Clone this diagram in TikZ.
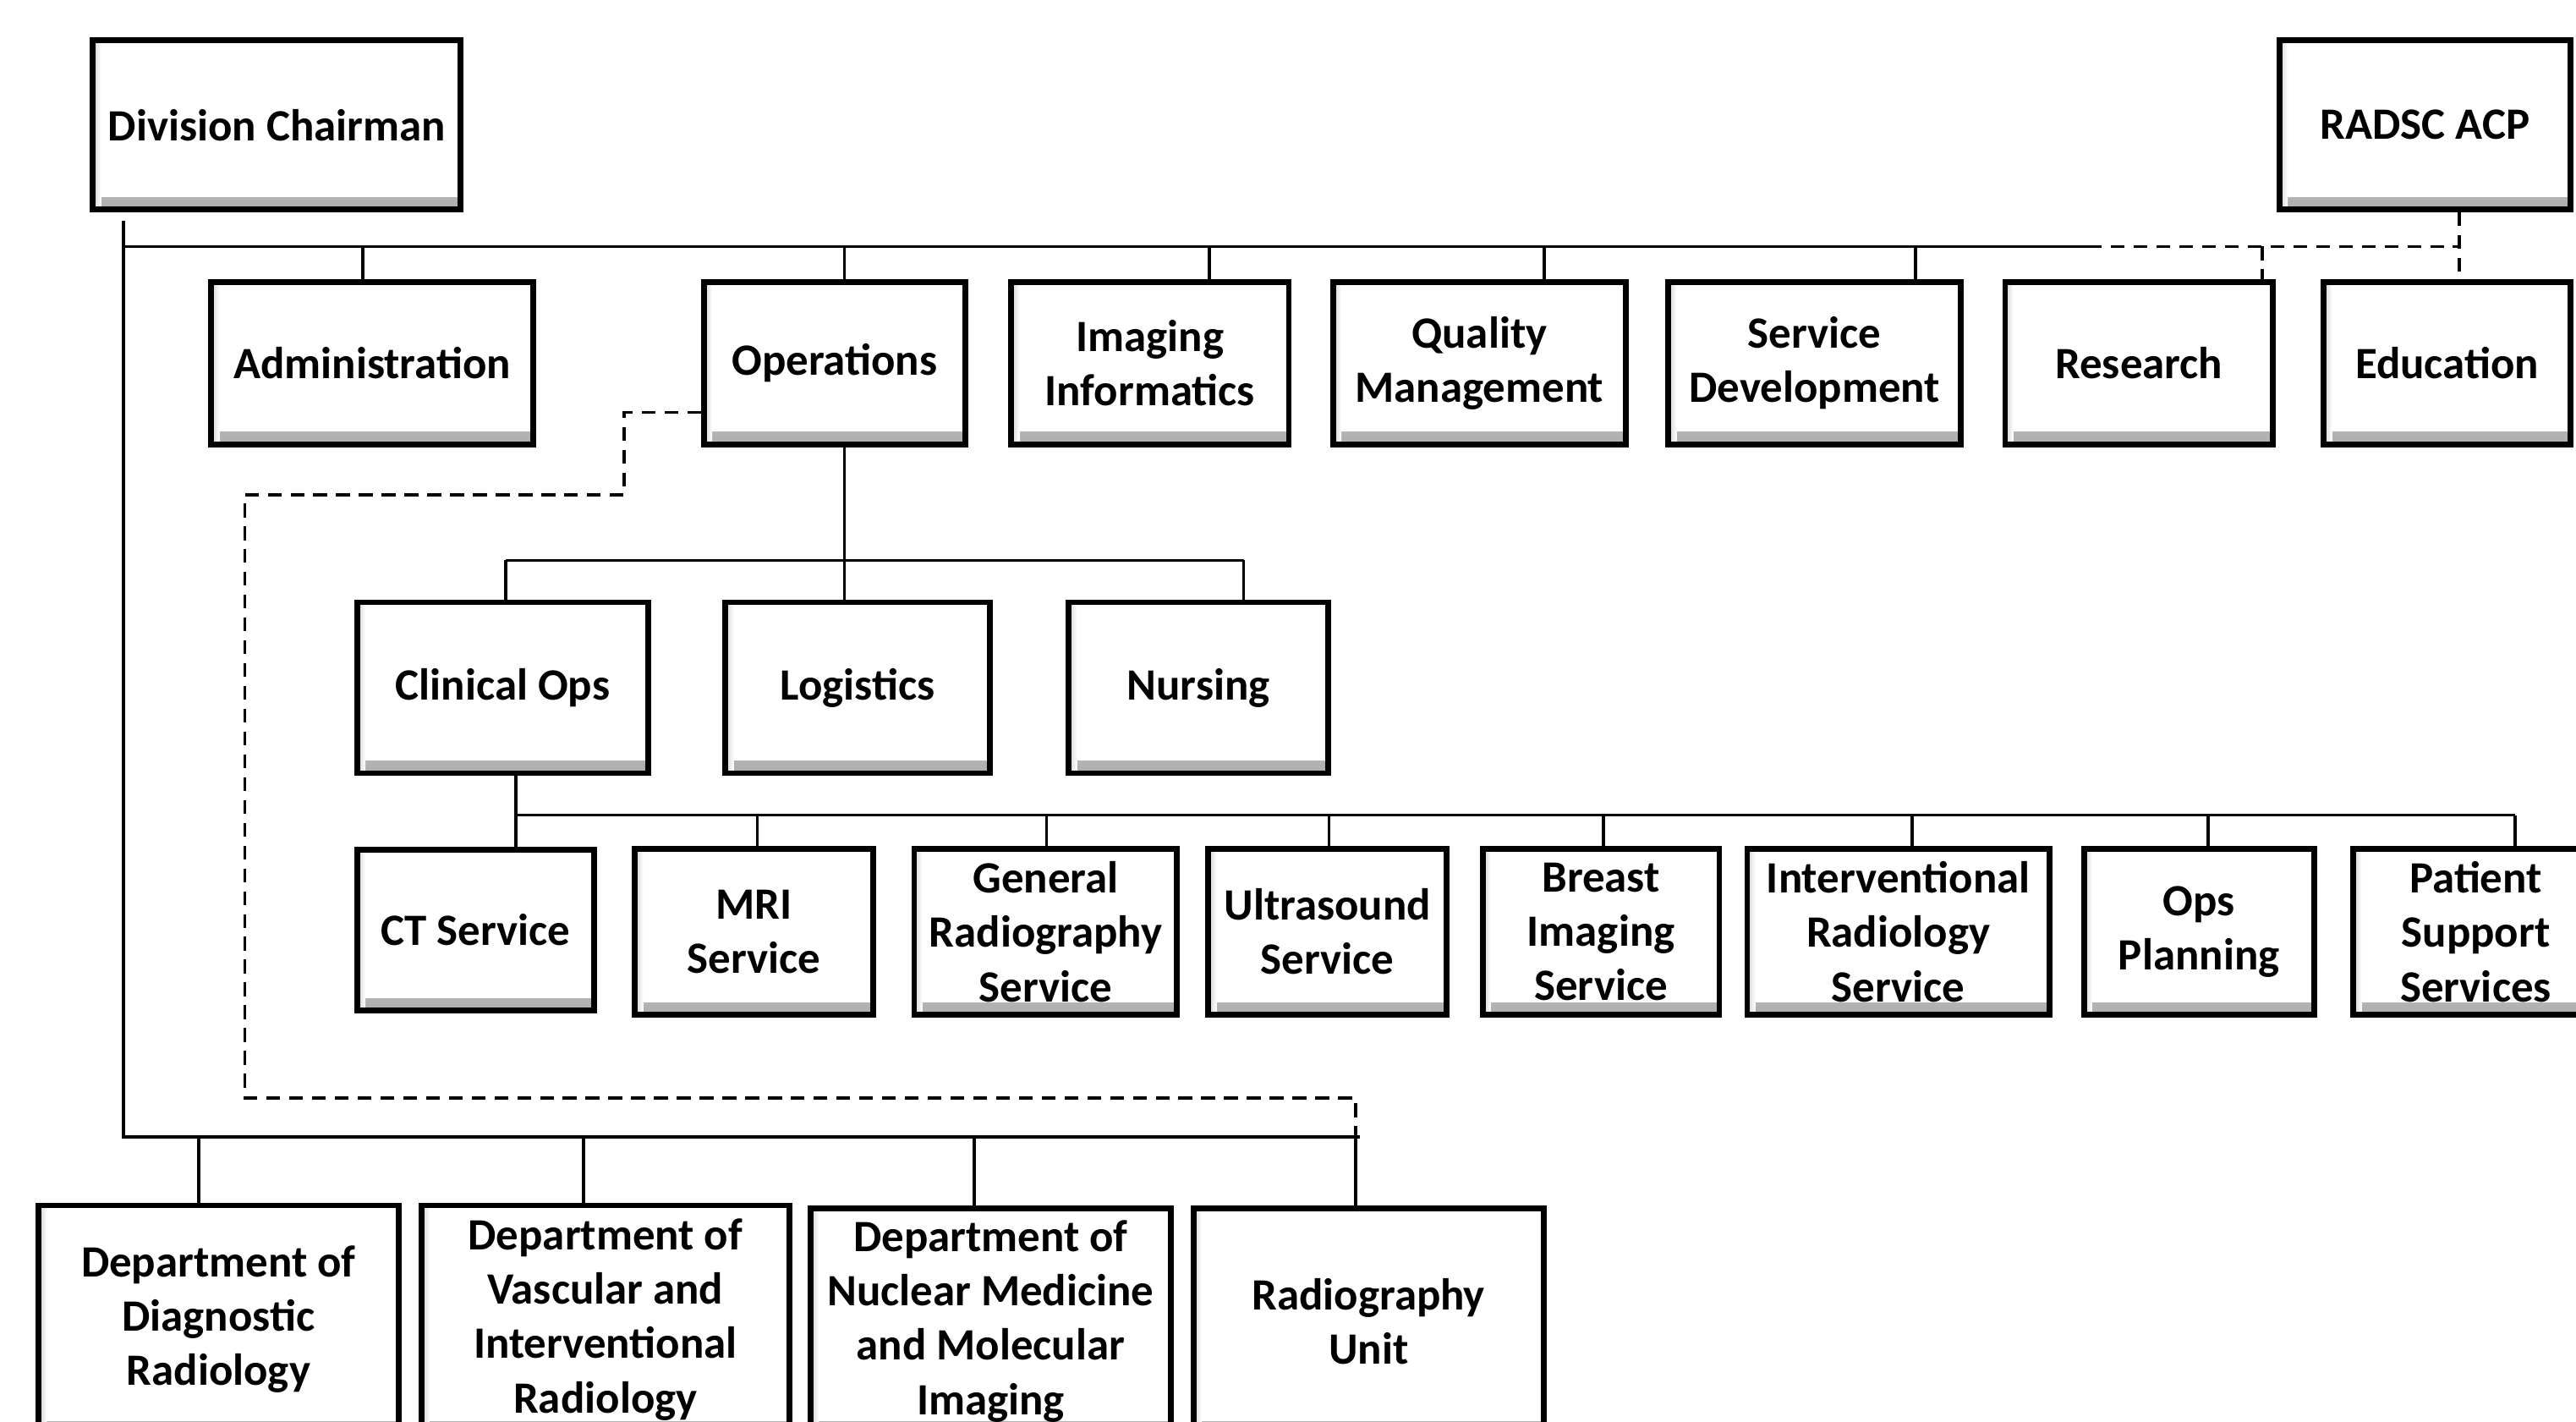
\documentclass[tikz,border=0pt]{standalone}
\usepackage{fontspec}
\setmainfont{Carlito}
\usepackage{tikz}

\tikzset{
  box/.style={draw, line width=2pt, align=center, inner sep=0pt, fill=white,
    font=\bfseries\fontsize{15.5}{18.8}\selectfont,
    path picture={
      \shade[top color=white, bottom color=black!32]
        (path picture bounding box.south west) rectangle ([yshift=0.15cm]path picture bounding box.south east);
      \shade[left color=black!18, right color=white]
        (path picture bounding box.south west) rectangle ([xshift=0.1cm]path picture bounding box.north west);
    }},
  sz/.style 2 args={minimum width=#1*0.02cm, minimum height=#2*0.02cm},
  conn/.style={line width=1.1pt},
  dconn/.style={line width=1.1pt, dash pattern=on 4.8pt off 3.1pt}
}

\begin{document}
\begin{tikzpicture}[x=0.02cm,y=-0.02cm]
\useasboundingbox (0,0) rectangle (1568,865);

\node[box, sz={224}{103}] (dc) at (168.5,76) {Division Chairman};
\node[box, sz={177}{103}] (acp) at (1476,76) {RADSC ACP};

\node[box, sz={196}{99}] (adm) at (226.5,221) {Administration};
\node[box, sz={159}{99}] (ops) at (508,221) {Operations};
\node[box, sz={169}{99}] (inf) at (700,221) {Imaging\\Informatics};
\node[box, sz={178}{99}] (qm) at (900.5,221) {Quality\\Management};
\node[box, sz={178}{99}] (sd) at (1104.5,221) {Service\\Development};
\node[box, sz={163}{99}] (res) at (1302,221) {Research};
\node[box, sz={150}{99}] (edu) at (1489.5,221) {Education};

\node[box, sz={177}{104}] (cli) at (306,418.5) {Clinical Ops};
\node[box, sz={161}{104}] (log) at (522,418.5) {Logistics};
\node[box, sz={158}{104}] (nur) at (729.5,418.5) {Nursing};

\node[box, sz={144}{98}] (ct) at (289.5,566) {CT Service};
\node[box, sz={145}{101}] (mri) at (459,567) {MRI\\Service};
\node[box, sz={160}{101}] (gen) at (636.5,567) {General\\Radiography\\Service};
\node[box, sz={145}{101}] (us) at (808,567) {Ultrasound\\Service};
\node[box, sz={144}{101}] (br) at (974.5,567) {Breast\\Imaging\\Service};
\node[box, sz={184}{101}] (ir) at (1155.5,567) {Interventional\\Radiology\\Service};
\node[box, sz={140}{101}] (op) at (1338.5,567) {Ops\\Planning};
\node[box, sz={149}{101}] (ps) at (1507,567) {Patient\\Support\\Services};

\node[box, sz={219}{139}] (ddr) at (133,803) {Department of\\Diagnostic\\Radiology};
\node[box, sz={224}{139}] (dvir) at (368.5,803) {Department of\\Vascular and\\Interventional\\Radiology};
\node[box, sz={219}{137}] (dnm) at (603,804) {Department of\\Nuclear Medicine\\and Molecular\\Imaging};
\node[box, sz={213}{137}] (ru) at (833,804) {Radiography\\Unit};

\coordinate (topL) at (75,150);
\coordinate (topR) at (1271,150);
\coordinate (botL) at (75,692);
\coordinate (botR) at (828,692);
\coordinate (tres) at (1377,150);
\coordinate (tedu) at (1497,150);
\coordinate (opsb) at (514,341);
\coordinate (clib) at (314,496);

\draw[conn] ([yshift=-0.1cm]dc.south -| topL) -- (botL) -- (botR);
\draw[conn] (topL) -- (topR);
\foreach \x/\n in {221/adm,514/ops,736/inf,940/qm,1166/sd}
  \draw[conn] (\x,150) coordinate (s) -- (s |- \n.north);
\foreach \x/\n in {121/ddr,355/dvir,593/dnm,825/ru}
  \draw[conn] (\x,692) coordinate (s) -- (s |- \n.north);

\draw[dconn] (topR) -- (tedu);
\draw[dconn] (acp.south -| tedu) -- (tedu |- edu.north);
\draw[dconn] (tres) -- (tres |- res.north);

\draw[conn] (ops.south -| opsb) -- (opsb);
\draw[conn] (308,341) -- (757,341);
\foreach \x/\n in {308/cli,514/log,757/nur}
  \draw[conn] (\x,341) coordinate (s) -- (s |- \n.north);

\draw[conn] (cli.south -| clib) -- (clib) -- (1531,496);
\foreach \x/\n in {314/ct,461/mri,637/gen,809/us,976/br,1164/ir,1344/op,1531/ps}
  \draw[conn] (\x,496) coordinate (s) -- (s |- \n.north);

\draw[dconn] ([yshift=-0.6cm]ops.west) -| (380,301) -| (149,668) -| (825,692);
\end{tikzpicture}
\end{document}
